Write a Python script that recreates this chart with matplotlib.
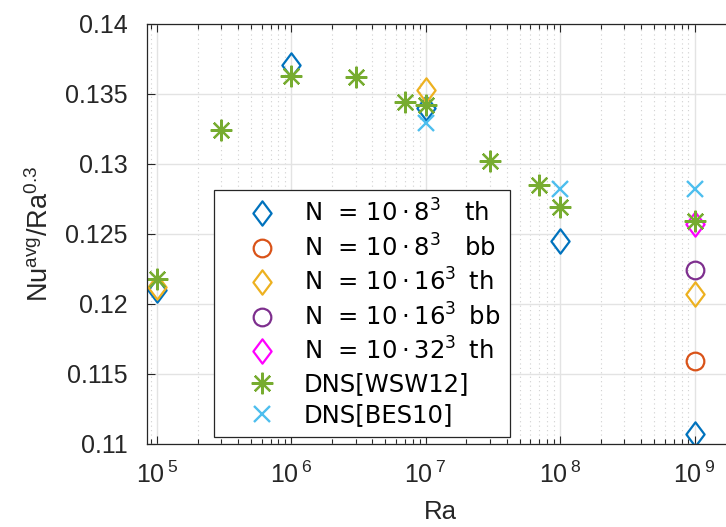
import matplotlib
matplotlib.use("Agg")
import matplotlib.pyplot as plt
from matplotlib.path import Path
from matplotlib.ticker import FixedLocator, FixedFormatter, LogLocator, NullFormatter

INK = "#262626"
BLUE, ORANGE, YELLOW, PURPLE = "#0072BD", "#D95319", "#EDB120", "#7E2F8E"
GREEN, CYAN, MAGENTA = "#77AC30", "#4DBEEE", "#FF00FF"

plt.rcParams.update({"font.family": ["Liberation Sans", "DejaVu Sans"],
                     "mathtext.fontset": "custom", "mathtext.rm": "DejaVu Sans",
                     "mathtext.sf": "Liberation Sans", "text.color": INK})

# simulations: N = 10*n^3 cells, thermal (th) / bounce-back (bb) boundaries
ra_8_th = [1e5, 1e6, 1e7, 1e8, 1e9]
nu_8_th = [0.1210, 0.1371, 0.1340, 0.1245, 0.1107]
ra_8_bb = [1e9]
nu_8_bb = [0.1159]
ra_16_th = [1e5, 1e7, 1e9]
nu_16_th = [0.1212, 0.1353, 0.1207]
ra_16_bb = [1e9]
nu_16_bb = [0.1224]
ra_32_th = [1e9]
nu_32_th = [0.1257]
# reference DNS
ra_wsw = [1e5, 3e5, 1e6, 3e6, 7e6, 1e7, 3e7, 7e7, 1e8, 1e9]
nu_wsw = [0.1218, 0.1324, 0.1363, 0.1362, 0.1344, 0.1342, 0.1302, 0.1285, 0.1269, 0.1259]
ra_bes = [1e7, 1e8, 1e9]
nu_bes = [0.1329, 0.1282, 0.1282]

yticks = [0.11, 0.115, 0.12, 0.125, 0.13, 0.135, 0.14]
ylabels = ["0.11", "0.115", "0.12", "0.125", "0.13", "0.135", "0.14"]
xticks = [1e5, 1e6, 1e7, 1e8, 1e9]
xlabels = [r"$\mathsf{10^{\:%d}}$" % e for e in range(5, 10)]

# MATLAB-like diamond: a bit wider than matplotlib's thin diamond
DIAMOND = Path([(0, 1), (0.75, 0), (0, -1), (-0.75, 0), (0, 1)], closed=True)

fig = plt.figure(figsize=(7.26, 5.27), dpi=100)
ax = fig.add_axes([0.2021, 0.1575, 0.8103, 0.797])

dia = dict(marker=DIAMOND, ms=17.5, mfc="none", mew=1.6, ls="none")
circ = dict(marker="o", ms=12.7, mfc="none", mew=1.6, ls="none")
ax.plot(ra_8_th, nu_8_th, color=BLUE, label="N  = 10\u2009·\u2009$8^{3}$   th", **dia)
ax.plot(ra_8_bb, nu_8_bb, color=ORANGE, label="N  = 10\u2009·\u2009$8^{3}$   bb", **circ)
ax.plot(ra_16_th, nu_16_th, color=YELLOW, label="N  = 10\u2009·\u2009$16^{3}$ \u2009th", **dia)
ax.plot(ra_16_bb, nu_16_bb, color=PURPLE, label="N  = 10\u2009·\u2009$16^{3}$ \u2009bb", **circ)
ax.plot(ra_32_th, nu_32_th, color=MAGENTA, label="N  = 10\u2009·\u2009$32^{3}$ \u2009th", **dia)
ax.plot(ra_wsw, nu_wsw, color=GREEN, marker=(8, 2, 0), ms=15.5, mew=1.6, ls="none",
        label="DNS[WSW12]")
ax.plot(ra_bes, nu_bes, color=CYAN, marker="x", ms=11.3, mew=1.7, ls="none",
        label="DNS[BES10]")

ax.set_xscale("log")
ax.set_xlim(10 ** 4.923, 2e9)
ax.set_ylim(0.11, 0.14)
ax.xaxis.set_major_locator(FixedLocator(xticks))
ax.xaxis.set_major_formatter(FixedFormatter(xlabels))
ax.xaxis.set_minor_locator(LogLocator(base=10, subs=range(2, 10), numticks=20))
ax.xaxis.set_minor_formatter(NullFormatter())
ax.yaxis.set_major_locator(FixedLocator(yticks))
ax.yaxis.set_major_formatter(FixedFormatter(ylabels))

ax.grid(True, which="major", color="#e3e3e3", lw=1.0)
ax.grid(True, which="minor", axis="x", color="#d0d0d0", lw=0.8, ls=(0, (1, 3)))
ax.set_axisbelow(True)
for s in ax.spines.values():
    s.set_color(INK)
    s.set_linewidth(0.9)
ax.tick_params(which="both", direction="in", top=True, right=True, colors=INK,
               labelsize=18, width=0.8)
ax.tick_params(which="major", length=6)
ax.tick_params(axis="x", which="major", pad=13)
ax.tick_params(axis="y", which="major", pad=14)
ax.tick_params(which="minor", length=3.5)

ax.set_xlabel("Ra", fontsize=18.5, color=INK, labelpad=8)
ax.set_ylabel(r"Nu$^{\mathsf{avg}}$/Ra$^{\mathsf{0.3}}$", fontsize=19.5, color=INK, labelpad=8)

leg = ax.legend(loc="lower left", bbox_to_anchor=(0.1146, 0.016),
                prop={"family": "DejaVu Sans", "size": 17.5},
                fancybox=False, framealpha=1, edgecolor=INK, borderpad=0.4,
                labelspacing=0.3, handletextpad=0.2, borderaxespad=0, handlelength=3.1)
leg.get_frame().set_linewidth(0.9)
for t in leg.get_texts():
    t.set_color("#000000")

fig.savefig("out.png", dpi=100)
